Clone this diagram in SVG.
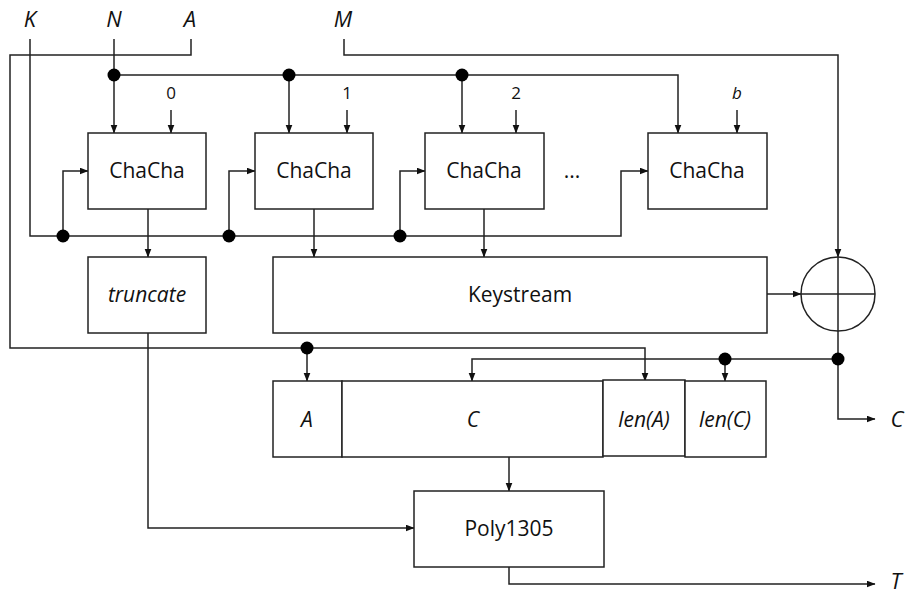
<svg xmlns="http://www.w3.org/2000/svg" width="906" height="596" viewBox="0 0 906 596">
<style>
.box{fill:#fff;stroke:#222;stroke-width:1.5}
.ln{fill:none;stroke:#222;stroke-width:1.5}
.arr{marker-end:url(#ah)}
.dot{fill:#000}
text{font-family:"Open Sans","Liberation Sans",sans-serif;fill:#111;text-anchor:middle}
.lbl{font-size:22px;font-style:italic}
.t{font-size:21px}
.i{font-size:21px;font-style:italic}
.s{font-size:17px}
</style>
<defs>
<marker id="ah" markerUnits="userSpaceOnUse" markerWidth="9" markerHeight="8" refX="8.5" refY="3.5" orient="auto">
<path d="M0,0 L9,3.5 L0,7 z" fill="#111"/>
</marker>
</defs>
<rect width="906" height="596" fill="#fff"/>
<g id="inputs">
<text class="lbl" x="30" y="27">K</text>
<text class="lbl" x="114" y="27">N</text>
<text class="lbl" x="190" y="27">A</text>
<text class="lbl" x="343" y="27">M</text>
<text class="s" x="171" y="99">0</text>
<text class="s" x="347" y="99">1</text>
<text class="s" x="516" y="99">2</text>
<text class="s" x="737" y="99" font-style="italic">b</text>
</g>
<g id="connectors">
<path class="ln arr" d="M30,39 V236 H621 V171 H648"/>
<path class="ln arr" d="M63,236 V171 H88"/>
<path class="ln arr" d="M229,236 V171 H255"/>
<path class="ln arr" d="M400,236 V171 H425"/>
<path class="ln arr" d="M114,39 V133"/>
<path class="ln arr" d="M114,75 H678 V133"/>
<path class="ln arr" d="M289,75 V133"/>
<path class="ln arr" d="M462,75 V133"/>
<path class="ln arr" d="M171,110 V133"/>
<path class="ln arr" d="M347,110 V133"/>
<path class="ln arr" d="M516,110 V133"/>
<path class="ln arr" d="M737,110 V133"/>
<path class="ln arr" d="M191,39 V55 H10 V348 H645 V381"/>
<path class="ln arr" d="M307,348 V381"/>
<path class="ln arr" d="M344,39 V55 H838 V257"/>
<path class="ln arr" d="M148,209 V257"/>
<path class="ln arr" d="M314,209 V257"/>
<path class="ln arr" d="M484,209 V257"/>
<path class="ln arr" d="M767,294 H801"/>
<path class="ln arr" d="M838,331 V419 H875"/>
<path class="ln arr" d="M838,359 H472 V381"/>
<path class="ln arr" d="M725,359 V381"/>
<path class="ln arr" d="M148,333 V528 H414"/>
<path class="ln arr" d="M509,457 V491"/>
<path class="ln arr" d="M509,567 V584 H875"/>
<circle class="dot" cx="63" cy="236" r="6.5"/>
<circle class="dot" cx="229" cy="236" r="6.5"/>
<circle class="dot" cx="400" cy="236" r="6.5"/>
<circle class="dot" cx="114" cy="75" r="6.5"/>
<circle class="dot" cx="289" cy="75" r="6.5"/>
<circle class="dot" cx="462" cy="75" r="6.5"/>
<circle class="dot" cx="307" cy="348" r="6.5"/>
<circle class="dot" cx="838" cy="359" r="6.5"/>
<circle class="dot" cx="725" cy="359" r="6.5"/>
</g>
<g id="chacha0"><rect class="box" x="88" y="133" width="118" height="76"/><text class="t" x="147" y="178">ChaCha</text></g>
<g id="chacha1"><rect class="box" x="255" y="133" width="118" height="76"/><text class="t" x="314" y="178">ChaCha</text></g>
<g id="chacha2"><rect class="box" x="425" y="133" width="119" height="76"/><text class="t" x="484" y="178">ChaCha</text></g>
<g id="dots"><text class="t" x="572" y="178">...</text></g>
<g id="chachab"><rect class="box" x="648" y="133" width="119" height="76"/><text class="t" x="707" y="178">ChaCha</text></g>
<g id="truncate"><rect class="box" x="88" y="257" width="118" height="76"/><text class="i" x="147" y="302">truncate</text></g>
<g id="keystream"><rect class="box" x="273" y="257" width="494" height="76"/><text class="t" x="520" y="302">Keystream</text></g>
<g id="xor"><circle class="box" cx="838" cy="294" r="37"/><path class="ln" d="M801,294 H875 M838,257 V331"/></g>
<g id="boxA"><rect class="box" x="273" y="381" width="69" height="76"/><text class="i" x="307" y="427">A</text></g>
<g id="boxC"><rect class="box" x="342" y="381" width="261" height="76"/><text class="i" x="473" y="427">C</text></g>
<g id="boxLenA"><rect class="box" x="603" y="380" width="82" height="76"/><text class="i" x="644" y="427">len(A)</text></g>
<g id="boxLenC"><rect class="box" x="685" y="381" width="81" height="76"/><text class="i" x="725" y="427">len(C)</text></g>
<g id="poly"><rect class="box" x="414" y="491" width="190" height="76"/><text class="t" x="509" y="536">Poly1305</text></g>
<g id="outputs">
<text class="lbl" x="897" y="427">C</text>
<text class="lbl" x="896" y="589">T</text>
</g>
</svg>
